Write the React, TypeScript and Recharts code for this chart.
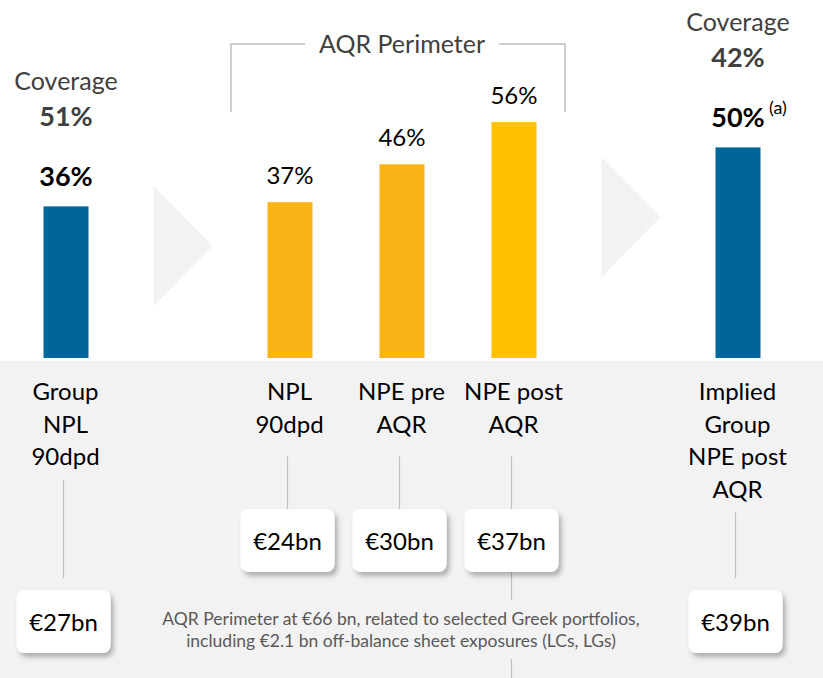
import React from 'react';
import { BarChart, Bar, XAxis, YAxis, Cell } from 'recharts';

// categories, one entry per bar, split into display lines
const categoryLines: string[][] = [
  ['Group', 'NPL', '90dpd'],
  ['NPL', '90dpd'],
  ['NPE pre', 'AQR'],
  ['NPE post', 'AQR'],
  ['Implied', 'Group', 'NPE post', 'AQR'],
];
const coveragePct = [36, 37, 46, 56, 50];
const groupCoveragePct: (number | null)[] = [51, null, null, null, 42];
const exposureBn = [27, 24, 30, 37, 39];
const footnoteMarks = ['', '', '', '', '(a)'];
const isGroupLevel = [true, false, false, false, true];

const barColors = ['#00669A', '#FBB417', '#FBB417', '#FFC000', '#00669A'];
const FONT = 'Lato, "Open Sans", sans-serif';
const NOTE_ANCHOR = 'NPE post AQR';

const rows = categoryLines.map((lines, i) => ({
  name: lines.join(' '),
  lines,
  value: coveragePct[i],
  group: groupCoveragePct[i],
  bn: exposureBn[i],
  mark: footnoteMarks[i],
  color: barColors[i],
  groupLevel: isGroupLevel[i],
  arrow: false,
}));

const arrowSlot = (name: string) => ({ name, lines: [], value: null, group: null, bn: 0, mark: '', color: 'none', groupLevel: false, arrow: true });

const chartData = [rows[0], arrowSlot('arrow-1'), rows[1], rows[2], rows[3], arrowSlot('arrow-2'), rows[4]];

// vertical placement of the grey chevrons (decoration only)
const arrowTop: Record<string, number> = { 'arrow-1': 186, 'arrow-2': 157 };

const CoverageBar = (props: any) => {
  const { x, y, width, height, payload } = props;
  if (!payload || payload.arrow || payload.value == null) return <g />;
  const cx = x + width / 2;
  const base = y - (payload.groupLevel ? 20 : 18);
  return (
    <g>
      <rect x={x} y={y} width={width} height={height} fill={payload.color} />
      <text x={cx} y={base} textAnchor="middle" fontFamily={FONT} fontSize={payload.groupLevel ? 27 : 24}
        fontWeight={payload.groupLevel ? 700 : 400} fill="#000">{payload.value}%</text>
      {payload.mark && (
        <text x={cx + 31} y={y - 33} fontFamily={FONT} fontSize={18} fill="#000">{payload.mark}</text>
      )}
      {payload.group != null && (
        <>
          <text x={cx} y={base - 96} textAnchor="middle" fontFamily={FONT} fontSize={25} fill="#404040">Coverage</text>
          <text x={cx} y={base - 60} textAnchor="middle" fontFamily={FONT} fontSize={27} fontWeight={700} fill="#404040">{payload.group}%</text>
        </>
      )}
    </g>
  );
};

const CategoryTick = (props: any) => {
  const { x, y, payload } = props;
  const row = chartData.find(r => r.name === payload.value);
  if (!row) return null;
  if (row.arrow) {
    const top = arrowTop[row.name];
    return <polygon points={`${x - 24},${top} ${x + 35},${top + 60} ${x - 24},${top + 120}`} fill="#F2F2F2" />;
  }
  const firstBase = y + 42;
  const lastBase = firstBase + (row.lines.length - 1) * 32.5;
  const low = row.groupLevel;
  const boxTop = low ? y + 232 : y + 151;
  const lineStart = lastBase + (low ? 15 : 24);
  const lineEnd = low ? boxTop - 12 : boxTop;
  return (
    <g>
      {row.lines.map((l, i) => (
        <text key={i} x={x} y={firstBase + i * 32.5} textAnchor="middle" fontFamily={FONT} fontSize={24} fill="#000">{l}</text>
      ))}
      <line x1={x - 2} x2={x - 2} y1={lineStart} y2={lineEnd} stroke="#BFBFBF" strokeWidth={1.2} />
      {row.name === NOTE_ANCHOR && (
        <>
          <line x1={x - 2} x2={x - 2} y1={boxTop + 63} y2={600} stroke="#BFBFBF" strokeWidth={1.2} />
          <line x1={x - 2} x2={x - 2} y1={659} y2={678} stroke="#BFBFBF" strokeWidth={1.2} />
        </>
      )}
      <rect x={x - 49} y={boxTop} width={94} height={63} rx={8} fill="#fff" filter="url(#boxShadow)" />
      <text x={x - 2} y={boxTop + 41} textAnchor="middle" fontFamily={FONT} fontSize={24} fill="#000">€{row.bn}bn</text>
    </g>
  );
};

export default function App() {
  return (
    <div style={{ position: 'absolute', left: 0, top: 0, width: 823, height: 678, background: '#fff', overflow: 'hidden' }}>
      <div style={{ position: 'absolute', left: 0, top: 361, width: 823, height: 317, background: '#F2F2F2' }} />
      <svg width={0} height={0} style={{ position: 'absolute' }}>
        <defs>
          <filter id="boxShadow" x="-20%" y="-20%" width="150%" height="160%">
            <feDropShadow dx={3} dy={4} stdDeviation={2.5} floodColor="#000" floodOpacity={0.28} />
          </filter>
        </defs>
      </svg>
      <div style={{ position: 'absolute', left: 0, top: 0 }}>
        <BarChart width={823} height={678} data={chartData} margin={{ top: 0, right: 29.5, bottom: 0, left: 9.5 }}>
          <YAxis hide domain={[0, 85]} />
          <XAxis dataKey="name" interval={0} height={320} tickLine={false} axisLine={false} tickSize={0} tickMargin={0}
            tick={<CategoryTick />} />
          <Bar dataKey="value" barSize={45} isAnimationActive={false} shape={<CoverageBar />}>
            {chartData.map((d, i) => <Cell key={i} fill={d.color} />)}
          </Bar>
        </BarChart>
      </div>
      <svg width={823} height={678} style={{ position: 'absolute', left: 0, top: 0, pointerEvents: 'none' }}>
        <polyline points="305,44 231,44 231,112" fill="none" stroke="#BFBFBF" strokeWidth={1.5} />
        <polyline points="499,44 565,44 565,112" fill="none" stroke="#BFBFBF" strokeWidth={1.5} />
        <text x={402} y={53} textAnchor="middle" fontFamily={FONT} fontSize={25} fill="#404040">AQR Perimeter</text>
        <text x={401} y={625} textAnchor="middle" fontFamily={FONT} fontSize={17.5} fill="#595959">AQR Perimeter at €66 bn, related to selected Greek portfolios,</text>
        <text x={401} y={647} textAnchor="middle" fontFamily={FONT} fontSize={17.5} fill="#595959">including €2.1 bn off-balance sheet exposures (LCs, LGs)</text>
      </svg>
    </div>
  );
}
